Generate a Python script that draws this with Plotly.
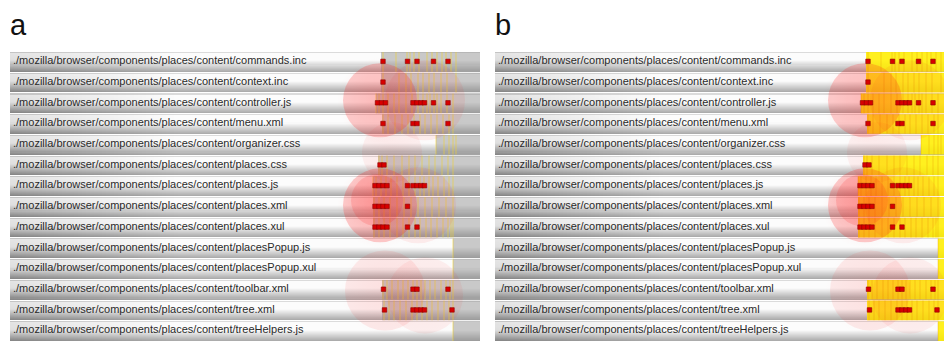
import plotly.graph_objects as go

# ---------------- data (x = time units along each file's timeline) ----------------
files = [
    "./mozilla/browser/components/places/content/commands.inc",
    "./mozilla/browser/components/places/content/context.inc",
    "./mozilla/browser/components/places/content/controller.js",
    "./mozilla/browser/components/places/content/menu.xml",
    "./mozilla/browser/components/places/content/organizer.css",
    "./mozilla/browser/components/places/content/places.css",
    "./mozilla/browser/components/places/content/places.js",
    "./mozilla/browser/components/places/content/places.xml",
    "./mozilla/browser/components/places/content/places.xul",
    "./mozilla/browser/components/places/content/placesPopup.js",
    "./mozilla/browser/components/places/content/placesPopup.xul",
    "./mozilla/browser/components/places/content/toolbar.xml",
    "./mozilla/browser/components/places/content/tree.xml",
    "./mozilla/browser/components/places/content/treeHelpers.js",
]

timeline_end = 470
active_start = [371, 371, 366, 372, 426, 368, 363, 363, 363, 443, 443, 372, 372, 443]

edits = [
    [373, 397.5, 407, 423.5, 438],
    [373],
    [367.5, 371.5, 375.5, 403, 407, 411, 414.5, 423.5, 438],
    [373, 403, 407, 438],
    [],
    [370, 374],
    [365, 369, 373, 377, 397.5, 403, 407, 411, 414.5],
    [365, 369, 373, 377, 397.5],
    [365, 369, 373, 377, 397.5, 407],
    [],
    [],
    [373.5, 403, 407, 438],
    [374.5, 403, 407, 411, 414.5, 442],
    [],
]

activity = [
    [373, 386, 397, 400, 404, 409, 417, 422, 427, 432, 436, 441, 446],
    [373, 389, 396, 401, 408, 413, 419, 424, 431, 437, 446],
    [366, 369, 373, 378, 384, 389, 396, 402, 408, 413, 417, 420, 424, 427, 431, 437, 443],
    [373, 378, 385, 392, 398, 404, 410, 415, 421, 427, 433, 439, 443],
    [426, 434, 439, 443, 446],
    [369, 372, 377, 384, 392, 399, 405, 412, 419, 425, 432, 438, 443],
    [363, 366, 371, 376, 381, 387, 393, 399, 405, 410, 414, 419, 423, 428, 434, 439, 443],
    [364, 369, 374, 380, 387, 394, 401, 408, 415, 422, 429, 436, 443],
    [364, 369, 374, 380, 387, 393, 399, 405, 410, 416, 421, 427, 433, 438, 441, 443],
    [443],
    [443],
    [373, 377, 382, 388, 393, 398, 403, 407, 411, 415, 420, 425, 431, 436, 440, 443],
    [374, 379, 384, 390, 396, 402, 407, 412, 417, 422, 428, 434, 439, 443],
    [443],
]

# clusters of related changes: centre time, centre row, radius (time units), intensity
cluster_t = [370, 415, 370, 367, 408, 375, 415, 382]
cluster_row = [1.88, 1.88, 6.95, 6.71, 6.95, 11.06, 11.3, 4.39]
cluster_r = [37, 40, 37, 26, 38, 40, 38, 30]
cluster_w = [0.30, 0.10, 0.32, 0.22, 0.10, 0.12, 0.09, 0.08]

panel_labels = ["a", "b"]

# ---------------- figure ----------------
# the page body has an 8 px margin, so the figure is laid out 8 px smaller
OFF = 8
W, H = 952 - OFF, 345 - OFF


def px_x(p):
    return (p - OFF) / W


def px_y(p):
    return 1 - (p - OFF) / H


rows = list(range(len(files)))
fig = go.Figure()

# tube shading texture (styling only)
SUB = 20
xs = [2 + 4 * j for j in range(119)]
ys, zz = [], []
for i in rows:
    for k in range(SUB):
        f = (k + 0.5) / SUB
        ys.append(i - 0.5 + f)
        if k == 0:
            zz.append([None] * len(xs))
            continue
        if f < 0.12:
            v = 0.86
        elif f < 0.45:
            v = 0.99
        else:
            v = 0.99 - (f - 0.45) / 0.55 * 0.33
        zz.append([round(v - 0.15 * max(0.0, 1 - x / 170) * (0.6 + 0.4 * f), 3) for x in xs])

panels = [("x", "rgba(140,140,140,0.45)", "rgba(240,210,50,0.6)"),
          ("x2", "rgba(255,238,0,0.88)", "rgba(230,150,0,0.35)")]

for xa, active_col, stripe_col in panels:
    fig.add_trace(go.Heatmap(x=xs, y=ys, z=zz, xaxis=xa, yaxis="y", zmin=0, zmax=1,
                             colorscale=[[0, "rgb(0,0,0)"], [1, "rgb(255,255,255)"]],
                             showscale=False, hoverinfo="skip", zsmooth=False))
    fig.add_trace(go.Bar(orientation="h", y=rows, base=active_start,
                         x=[timeline_end - s for s in active_start],
                         offset=-0.45, width=0.95, xaxis=xa, yaxis="y",
                         marker=dict(color=active_col, line=dict(width=0)),
                         hoverinfo="skip"))
    sy, sx = [], []
    for i, lst in enumerate(activity):
        for t in lst:
            sy.append(i)
            sx.append(t)
    fig.add_trace(go.Bar(orientation="h", y=sy, base=[t - 0.5 for t in sx], x=[1.0] * len(sx),
                         offset=-0.45, width=0.95, xaxis=xa, yaxis="y",
                         marker=dict(color=stripe_col, line=dict(width=0)),
                         hoverinfo="skip"))
    fig.add_trace(go.Scatter(x=[3] * len(files), y=rows, text=files, mode="text",
                             textposition="middle right", xaxis=xa, yaxis="y",
                             textfont=dict(family="Liberation Sans, Arial", size=11, color="#2a2a2a"),
                             hoverinfo="skip"))
    # soft glow around each cluster
    fig.add_trace(go.Scatter(x=cluster_t, y=cluster_row, mode="markers", xaxis=xa, yaxis="y",
                             marker=dict(size=[2 * r + 12 for r in cluster_r],
                                         color="rgba(255,25,25,0)",
                                         gradient=dict(type="radial",
                                                       color=[f"rgba(255,25,25,{w * 0.5:.3f})" for w in cluster_w]),
                                         line=dict(width=0)),
                             hoverinfo="skip"))
    fig.add_trace(go.Scatter(x=cluster_t, y=cluster_row, mode="markers", xaxis=xa, yaxis="y",
                             marker=dict(size=[2 * r for r in cluster_r],
                                         color=[f"rgba(255,25,25,{w:.3f})" for w in cluster_w],
                                         line=dict(width=0)),
                             hoverinfo="skip"))
    ex, ey = [], []
    for i, lst in enumerate(edits):
        for t in lst:
            ex.append(t)
            ey.append(i)
    fig.add_trace(go.Scatter(x=ex, y=ey, mode="markers", xaxis=xa, yaxis="y",
                             marker=dict(symbol="square", size=4.5, color="#d80000",
                                         line=dict(color="#8c0000", width=0.6)),
                             hoverinfo="skip"))

axis_off = dict(visible=False, showgrid=False, zeroline=False, fixedrange=True)
fig.update_layout(
    width=W, height=H, margin=dict(l=0, r=0, t=0, b=0),
    paper_bgcolor="white", plot_bgcolor="rgba(0,0,0,0)",
    showlegend=False, barmode="overlay",
    xaxis=dict(domain=[px_x(10), px_x(480)], range=[0, 470], **axis_off),
    xaxis2=dict(domain=[px_x(495), 1.0], range=[0, 457], anchor="y", **axis_off),
    yaxis=dict(domain=[px_y(341), px_y(51)], range=[13.5, -0.5], **axis_off),
    annotations=[
        dict(text=lab, x=px_x(xp), y=1.0, xref="paper", yref="paper",
             xanchor="left", yanchor="top", showarrow=False, borderpad=0,
             font=dict(family="Liberation Sans, Arial", size=29, color="#111"))
        for lab, xp in zip(panel_labels, [9, 494])
    ],
)

fig.write_html("out.html")
